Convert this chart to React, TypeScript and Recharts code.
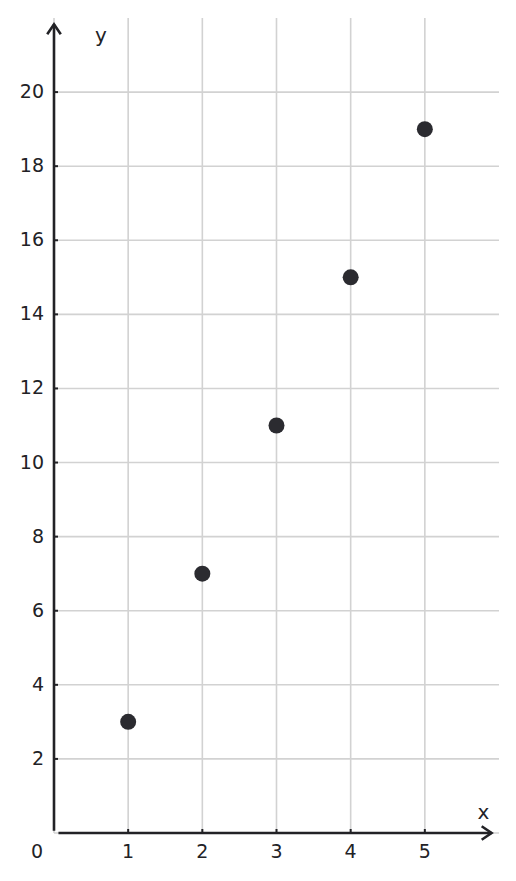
import { ReferenceLine, Scatter, ScatterChart, XAxis, YAxis } from "recharts";

const xValues = [1, 2, 3, 4, 5];
const yValues = [3, 7, 11, 15, 19];
const xTicks = [0, 1, 2, 3, 4, 5];
const yTicks = [0, 2, 4, 6, 8, 10, 12, 14, 16, 18, 20];

const points = xValues.map((x, i) => ({ x, y: yValues[i] }));

const INK = "#222226";
const GRID = "#d2d2d2";
const FONT = "'DejaVu Sans', sans-serif";

function ArrowLine(props: any) {
  const { x1, y1, x2, y2 } = props;
  const ang = Math.atan2(y2 - y1, x2 - x1);
  const len = 12;
  const spread = 0.6;
  const a1 = [x2 - len * Math.cos(ang - spread), y2 - len * Math.sin(ang - spread)];
  const a2 = [x2 - len * Math.cos(ang + spread), y2 - len * Math.sin(ang + spread)];
  return (
    <g>
      <line x1={x1} y1={y1} x2={x2} y2={y2} stroke={INK} strokeWidth={2.6} />
      <polyline
        points={`${a1[0]},${a1[1]} ${x2},${y2} ${a2[0]},${a2[1]}`}
        fill="none"
        stroke={INK}
        strokeWidth={2.6}
        strokeLinejoin="miter"
      />
    </g>
  );
}

function XTick({ x, y, payload }: any) {
  if (payload.value === 0) {
    return (
      <text x={x - 17} y={y + 25} textAnchor="middle" fontSize={19} fontFamily={FONT} fill={INK}>
        0
      </text>
    );
  }
  return (
    <g>
      <line x1={x} x2={x} y1={y} y2={y - 4} stroke={INK} strokeWidth={2} />
      <text x={x} y={y + 25} textAnchor="middle" fontSize={19} fontFamily={FONT} fill={INK}>
        {payload.value}
      </text>
    </g>
  );
}

function YTick({ x, y, payload }: any) {
  if (payload.value === 0) return <g />;
  return (
    <g>
      <line x1={x} x2={x + 4} y1={y} y2={y} stroke={INK} strokeWidth={2} />
      <text x={x - 10} y={y + 6} textAnchor="end" fontSize={19} fontFamily={FONT} fill={INK}>
        {payload.value}
      </text>
    </g>
  );
}

export default function App() {
  return (
    <div style={{ position: "absolute", left: 0, top: 0, background: "#fff" }}>
      <ScatterChart width={516} height={881} margin={{ top: 18, right: 17, bottom: 0, left: 0 }}>
        <XAxis
          type="number"
          dataKey="x"
          domain={[0, 6]}
          ticks={xTicks}
          height={48}
          axisLine={false}
          tickLine={false}
          tickSize={0}
          tickMargin={0}
          tick={<XTick />}
          interval={0}
        />
        <YAxis
          type="number"
          dataKey="y"
          domain={[0, 22]}
          ticks={yTicks}
          width={54}
          axisLine={false}
          tickLine={false}
          tickSize={0}
          tickMargin={0}
          tick={<YTick />}
          interval={0}
        />
        {xTicks.map((t) => (
          <ReferenceLine key={`gx${t}`} x={t} stroke={GRID} strokeWidth={1.6} />
        ))}
        {yTicks.map((t) => (
          <ReferenceLine key={`gy${t}`} y={t} stroke={GRID} strokeWidth={1.6} />
        ))}
        <ReferenceLine segment={[{ x: 0.06, y: 0 }, { x: 5.9, y: 0 }]} shape={ArrowLine} />
        <ReferenceLine segment={[{ x: 0, y: 0.06 }, { x: 0, y: 21.83 }]} shape={ArrowLine} />
        <Scatter
          data={points}
          fill={INK}
          isAnimationActive={false}
          shape={(p: any) => <circle cx={p.cx} cy={p.cy} r={8} fill="#2b2b30" />}
        />
        <text x={101} y={42} textAnchor="middle" fontSize={20} fontFamily={FONT} fill={INK}>
          y
        </text>
        <text x={483.5} y={819} textAnchor="middle" fontSize={20} fontFamily={FONT} fill={INK}>
          x
        </text>
      </ScatterChart>
    </div>
  );
}
